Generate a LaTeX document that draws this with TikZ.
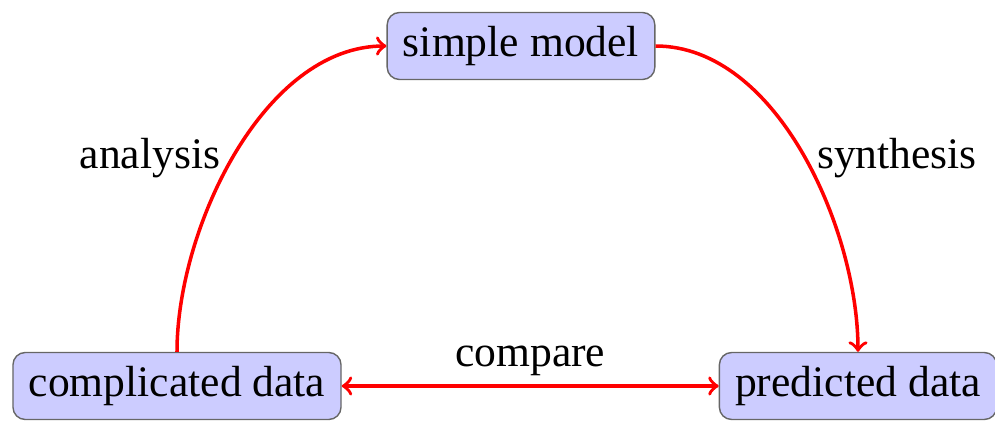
\documentclass[tikz,border=0pt]{standalone}
\usepackage{fontspec}
\setmainfont{Liberation Serif}
\usetikzlibrary{positioning, calc, arrows}

\begin{document}
\begin{tikzpicture}[font=\fontsize{12.4}{14}\selectfont,
    box/.style={draw=black!60, fill=blue!20, rounded corners=3.5pt, minimum height=0.67cm, inner xsep=4.5pt},
    link/.style={red, line width=1pt, ->},
    tag/.style={black}]
            \useasboundingbox (0,0) rectangle (9.95,4.21);
            \node[box] (model) at (5.21,3.75) {simple model};
            \node[box] (complicated) at (1.77,0.35) {complicated data};
            \node[box] (predicted) at (8.58,0.35) {predicted data};
            \node[tag] (analysis) at (1.50,2.63) {analysis};
            \node[tag] (synthesis) at (8.97,2.63) {synthesis};
            % arrows round the triangle
            \draw[link] (complicated.north) to[out=90, in=180, looseness=0.85] (model.west);
            \draw[link] (model.east) to[out=0, in=90, looseness=0.85] (predicted.north);
            \draw[link, <->] (complicated) --
              node[tag, above=-1pt] (compare) {compare} (predicted);
          \end{tikzpicture}
\end{document}
